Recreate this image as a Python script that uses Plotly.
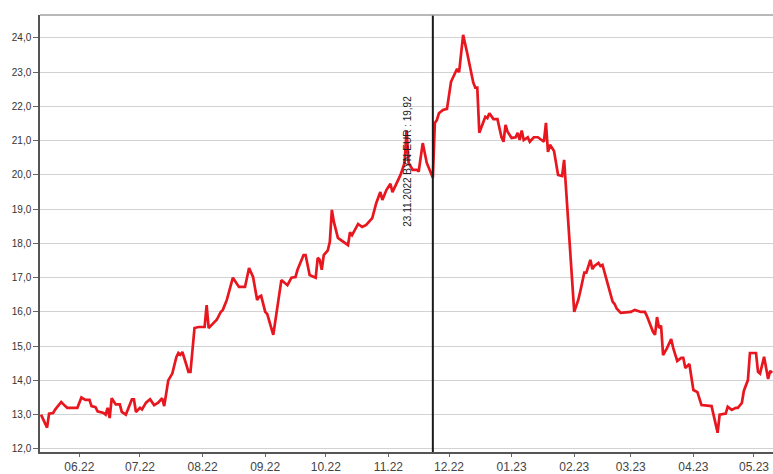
import plotly.graph_objects as go

dates = [
    "2022-05-13", "2022-05-16", "2022-05-17", "2022-05-19", "2022-05-20", "2022-05-23", "2022-05-25", "2022-05-26",
    "2022-05-31", "2022-06-02", "2022-06-04", "2022-06-06", "2022-06-07", "2022-06-09", "2022-06-10", "2022-06-13",
    "2022-06-14", "2022-06-15", "2022-06-16", "2022-06-17", "2022-06-19", "2022-06-21", "2022-06-22", "2022-06-24",
    "2022-06-25", "2022-06-27", "2022-06-28", "2022-06-29", "2022-07-01", "2022-07-02", "2022-07-04", "2022-07-06",
    "2022-07-08", "2022-07-10", "2022-07-12", "2022-07-13", "2022-07-15", "2022-07-17", "2022-07-19", "2022-07-20",
    "2022-07-21", "2022-07-22", "2022-07-24", "2022-07-25", "2022-07-26", "2022-07-28", "2022-07-30", "2022-08-01",
    "2022-08-02", "2022-08-03", "2022-08-04", "2022-08-06", "2022-08-08", "2022-08-10", "2022-08-11", "2022-08-13",
    "2022-08-16", "2022-08-19", "2022-08-22", "2022-08-24", "2022-08-26", "2022-08-28", "2022-08-29", "2022-08-30",
    "2022-09-01", "2022-09-02", "2022-09-05", "2022-09-09", "2022-09-12", "2022-09-14", "2022-09-16", "2022-09-17",
    "2022-09-20", "2022-09-21", "2022-09-23", "2022-09-26", "2022-09-27", "2022-09-28", "2022-09-29", "2022-09-30",
    "2022-10-02", "2022-10-03", "2022-10-04", "2022-10-05", "2022-10-07", "2022-10-12", "2022-10-13", "2022-10-14",
    "2022-10-17", "2022-10-19", "2022-10-21", "2022-10-24", "2022-10-26", "2022-10-28", "2022-10-29", "2022-10-31",
    "2022-11-02", "2022-11-03", "2022-11-05", "2022-11-07", "2022-11-09", "2022-11-10", "2022-11-11", "2022-11-13",
    "2022-11-15", "2022-11-16", "2022-11-18", "2022-11-20", "2022-11-23", "2022-11-24", "2022-11-25", "2022-11-26",
    "2022-11-28", "2022-11-30", "2022-12-02", "2022-12-04", "2022-12-05", "2022-12-06", "2022-12-08", "2022-12-10",
    "2022-12-13", "2022-12-14", "2022-12-15", "2022-12-16", "2022-12-18", "2022-12-19", "2022-12-20", "2022-12-21",
    "2022-12-23", "2022-12-25", "2022-12-27", "2022-12-28", "2022-12-29", "2022-12-30", "2023-01-01", "2023-01-03",
    "2023-01-04", "2023-01-05", "2023-01-06", "2023-01-07", "2023-01-09", "2023-01-10", "2023-01-12", "2023-01-14",
    "2023-01-17", "2023-01-18", "2023-01-19", "2023-01-20", "2023-01-22", "2023-01-24", "2023-01-26", "2023-01-27",
    "2023-02-01", "2023-02-03", "2023-02-04", "2023-02-06", "2023-02-07", "2023-02-09", "2023-02-10", "2023-02-11",
    "2023-02-13", "2023-02-14", "2023-02-15", "2023-02-17", "2023-02-20", "2023-02-21", "2023-02-22", "2023-02-24",
    "2023-03-01", "2023-03-03", "2023-03-06", "2023-03-08", "2023-03-09", "2023-03-12", "2023-03-13", "2023-03-14",
    "2023-03-15", "2023-03-16", "2023-03-17", "2023-03-19", "2023-03-21", "2023-03-22", "2023-03-24", "2023-03-26",
    "2023-03-27", "2023-03-28", "2023-03-30", "2023-04-01", "2023-04-03", "2023-04-05", "2023-04-10", "2023-04-13",
    "2023-04-14", "2023-04-17", "2023-04-18", "2023-04-20", "2023-04-22", "2023-04-23", "2023-04-25", "2023-04-26",
    "2023-04-28", "2023-04-29", "2023-05-02", "2023-05-03", "2023-05-04", "2023-05-06", "2023-05-08", "2023-05-09",
    "2023-05-10",
]

rates = [
    13.00, 12.62, 13.03, 13.05, 13.15, 13.37, 13.25, 13.20,
    13.20, 13.50, 13.43, 13.43, 13.25, 13.22, 13.10, 13.05,
    13.00, 13.20, 12.90, 13.48, 13.30, 13.30, 13.08, 13.00,
    13.15, 13.45, 13.45, 13.08, 13.20, 13.15, 13.35, 13.45,
    13.28, 13.35, 13.48, 13.25, 14.00, 14.20, 14.68, 14.80,
    14.75, 14.83, 14.45, 14.25, 14.25, 15.53, 15.56, 15.56,
    15.56, 16.20, 15.53, 15.65, 15.77, 16.00, 16.06, 16.35,
    17.00, 16.73, 16.73, 17.28, 17.02, 16.35, 16.44, 16.47,
    16.00, 15.94, 15.33, 16.93, 16.78, 17.00, 17.02, 17.23,
    17.66, 17.66, 17.08, 17.00, 17.58, 17.52, 17.23, 17.66,
    17.80, 18.05, 18.98, 18.63, 18.16, 17.95, 18.33, 18.24,
    18.57, 18.48, 18.54, 18.74, 19.18, 19.50, 19.27, 19.56,
    19.74, 19.50, 19.77, 20.00, 20.35, 21.30, 20.35, 20.15,
    20.15, 20.10, 20.93, 20.35, 19.92, 21.52, 21.60, 21.80,
    21.90, 21.93, 22.72, 23.00, 23.10, 23.00, 24.09, 23.56,
    22.70, 22.55, 22.55, 21.23, 21.52, 21.70, 21.66, 21.80,
    21.63, 21.63, 21.10, 20.97, 21.46, 21.26, 21.08, 21.10,
    21.23, 21.02, 21.30, 21.02, 21.10, 20.97, 21.10, 21.10,
    20.97, 21.52, 20.67, 20.88, 20.70, 20.00, 19.97, 20.44,
    16.00, 16.35, 16.60, 17.15, 17.15, 17.52, 17.25, 17.34,
    17.43, 17.34, 17.37, 16.93, 16.30, 16.23, 16.10, 15.97,
    16.00, 16.06, 16.00, 16.00, 15.88, 15.42, 15.33, 15.85,
    15.53, 15.60, 14.74, 14.95, 15.21, 14.95, 14.57, 14.66,
    14.66, 14.36, 14.48, 13.72, 13.66, 13.28, 13.25, 12.47,
    13.00, 13.03, 13.23, 13.14, 13.20, 13.20, 13.34, 13.70,
    14.01, 14.80, 14.80, 14.25, 14.20, 14.69, 14.04, 14.28,
    14.22,
]

marker_date = "2022-11-23"
marker_value = 19.92
marker_label = "23.11.2022 BYN-EUR : 19,92"
x_range = ["2022-05-12 12:00", "2023-05-10 10:00"]
y_range = [11.91, 24.67]
y_ticks = [12, 13, 14, 15, 16, 17, 18, 19, 20, 21, 22, 23, 24]

fig = go.Figure()
fig.add_trace(go.Scatter(
    x=dates, y=rates, mode="lines",
    line=dict(color="#e8161e", width=2.7),
    hoverinfo="skip", showlegend=False,
))

fig.add_shape(type="line", xref="x", yref="paper",
              x0=marker_date, x1=marker_date, y0=0, y1=1,
              line=dict(color="#1a1a1a", width=2))

fig.add_annotation(x=marker_date, y=20.41, xref="x", yref="y",
                   text=marker_label, textangle=-90, showarrow=False,
                   xshift=-25, font=dict(family="Liberation Sans, Arial", size=10, color="#222"))

fig.update_layout(
    width=773, height=474,
    margin=dict(l=40, r=0, t=15, b=22, autoexpand=False),
    paper_bgcolor="white", plot_bgcolor="white",
    separators=", ",
    font=dict(family="Liberation Sans, Arial", color="#333"),
)

fig.update_xaxes(
    type="date", range=x_range, automargin=False,
    tick0="2022-06-01", dtick="M1", tickformat="%m.%y",
    ticks="outside", ticklen=3, tickcolor="#666",
    tickfont=dict(size=12, color="#444"),
    showgrid=False, showline=True, linecolor="#555", linewidth=1.5,
    zeroline=False,
)
fig.update_yaxes(
    range=y_range, tickvals=y_ticks, tickformat=".1f", automargin=False,
    ticks="outside", ticklen=5, tickcolor="#666",
    tickfont=dict(size=10, color="#333"),
    showgrid=True, gridcolor="#d2d2d2", gridwidth=1,
    showline=True, linecolor="#555", linewidth=1.5,
    zeroline=False,
)
# top frame line
fig.add_shape(type="line", xref="paper", yref="paper", x0=0, x1=1, y0=1, y1=1,
              line=dict(color="#a0a0a0", width=1.5))

fig.write_html("out.html",
               config={"displayModeBar": False},
               post_script="document.body.style.margin='0';document.body.style.overflow='hidden';")
